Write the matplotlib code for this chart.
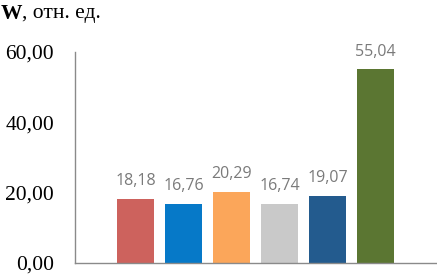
import matplotlib.pyplot as plt
from matplotlib.ticker import FuncFormatter

values = [18.18, 16.76, 20.29, 16.74, 19.07, 55.04]
colors = ["#CD625D", "#0679C8", "#FBA65A", "#C9C9C9", "#235B8E", "#5B7632"]
yticks = [0, 20, 40, 60]

fig = plt.figure(figsize=(4.37, 2.75), dpi=100)
ax = fig.add_axes([75 / 437, 12 / 275, 362 / 437, 211 / 275])

xs = list(range(len(values)))
bars = ax.bar(xs, values, width=0.77, color=colors)
for x, v in zip(xs, values):
    ax.annotate(f"{v:.2f}".replace(".", ","), (x, v), xytext=(0, 7), textcoords="offset points",
                ha="center", va="bottom", fontsize=11.5, color="#7a7a7a", family="Open Sans")

ax.set_xlim(-1.26, 6.28)
ax.set_ylim(0, 60)
ax.set_yticks(yticks)
ax.yaxis.set_major_formatter(FuncFormatter(lambda v, p: f"{v:.2f}".replace(".", ",")))
ax.set_xticks([])
ax.tick_params(axis="y", length=0, pad=15, labelsize=15.5)
for lab in ax.get_yticklabels():
    lab.set_family("Liberation Serif")
for s in ["top", "right"]:
    ax.spines[s].set_visible(False)
for s in ["left", "bottom"]:
    ax.spines[s].set_color("#8a8a8a")
    ax.spines[s].set_linewidth(1.0)

t1 = fig.text(1 / 437, 1 - 4 / 275, "W", fontsize=15.5, fontweight="bold", family="Liberation Serif",
              ha="left", va="top")
fig.canvas.draw()
bb = t1.get_window_extent()
fig.text(bb.x1 / 437, 1 - 4 / 275, ", отн. ед.", fontsize=15.5, family="Liberation Serif",
         ha="left", va="top")

fig.savefig("out.png", dpi=100)
